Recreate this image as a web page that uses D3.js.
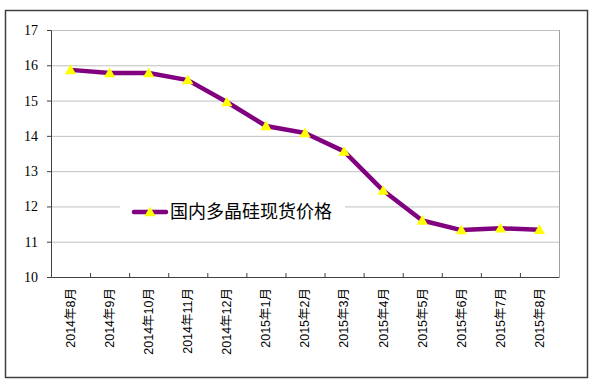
<!DOCTYPE html>
<html>
<head>
<meta charset="utf-8">
<script src="https://cdn.jsdelivr.net/npm/d3@7"></script>
<style>
  body { margin: 0; background: #fff; }
  svg { display: block; }
</style>
</head>
<body>
<svg id="chart" width="594" height="385"></svg>
<script>
// data
const months = ["2014年8月", "2014年9月", "2014年10月", "2014年11月", "2014年12月",
  "2015年1月", "2015年2月", "2015年3月", "2015年4月", "2015年5月",
  "2015年6月", "2015年7月", "2015年8月"];
const prices = [15.87, 15.78, 15.78, 15.58, 14.96, 14.28, 14.08, 13.56, 12.45, 11.6, 11.33, 11.38, 11.34];
const yTicks = [10, 11, 12, 13, 14, 15, 16, 17];
const seriesName = "国内多晶硅现货价格";

const svg = d3.select("#chart");
const margin = { left: 51, top: 30, right: 35, bottom: 108 };
const innerWidth = 594 - margin.left - margin.right;
const innerHeight = 385 - margin.top - margin.bottom;

// outer frame
svg.append("rect")
  .attr("x", 5.5).attr("y", 10.5)
  .attr("width", 582).attr("height", 367)
  .attr("fill", "#fff")
  .attr("stroke", "#404040")
  .attr("stroke-width", 1.5);

const g = svg.append("g").attr("transform", `translate(${margin.left},${margin.top})`);

const xScale = d3.scaleBand().domain(months).range([0, innerWidth]);
const yScale = d3.scaleLinear().domain([10, 17]).range([innerHeight, 0]);

// gridlines
g.selectAll(".grid")
  .data(yTicks.slice(1))
  .enter()
  .append("line")
  .attr("x1", 0).attr("x2", innerWidth)
  .attr("y1", d => yScale(d) + 0.5).attr("y2", d => yScale(d) + 0.5)
  .style("stroke", "#c0c0c0");

// right border of plot
g.append("line")
  .attr("x1", innerWidth + 0.5).attr("x2", innerWidth + 0.5)
  .attr("y1", 0).attr("y2", innerHeight)
  .style("stroke", "#a0a0a0");

// y axis
const yAxis = d3.axisLeft(yScale).tickValues(yTicks).tickFormat(d3.format("d")).tickSize(4).tickPadding(9);
const yG = g.append("g").call(yAxis);
yG.select(".domain").attr("stroke", "#404040");
yG.selectAll(".tick line").attr("stroke", "#404040");
yG.selectAll("text")
  .style("font-family", "'Liberation Serif', 'DejaVu Serif', serif")
  .style("font-size", "14px")
  .attr("fill", "#000");

// x axis (line + ticks only, labels drawn separately)
const xAxis = d3.axisBottom(xScale).tickSize(0).tickFormat("");
const xG = g.append("g").attr("transform", `translate(0,${innerHeight})`).call(xAxis);
xG.select(".domain").attr("stroke", "#404040");

// rotated category labels
g.selectAll(".xlabel")
  .data(months)
  .enter()
  .append("text")
  .attr("class", "xlabel")
  .attr("transform", d => `translate(${xScale(d) + xScale.bandwidth() / 2},${innerHeight + 11}) rotate(-90)`)
  .attr("dy", "0.35em")
  .style("text-anchor", "end")
  .style("font-family", "'Liberation Sans', 'Noto Sans CJK SC', sans-serif")
  .style("font-size", "12.5px")
  .attr("fill", "#000")
  .text(d => d);

// tick marks at band boundaries, pointing up
g.selectAll(".xtick")
  .data(months.slice(1))
  .enter()
  .append("line")
  .attr("x1", d => xScale(d) + 0.5).attr("x2", d => xScale(d) + 0.5)
  .attr("y1", innerHeight - 4).attr("y2", innerHeight)
  .style("stroke", "#404040");

// series line
const line = d3.line()
  .x((d, i) => xScale(months[i]) + xScale.bandwidth() / 2)
  .y(d => yScale(d));

g.append("path")
  .datum(prices)
  .attr("d", line)
  .attr("fill", "none")
  .attr("stroke", "#800080")
  .attr("stroke-width", 4.5)
  .attr("stroke-linejoin", "round");

const tri = d3.symbol().type(d3.symbolTriangle).size(55);
g.selectAll(".marker")
  .data(prices)
  .enter()
  .append("path")
  .attr("d", tri)
  .attr("transform", (d, i) => `translate(${xScale(months[i]) + xScale.bandwidth() / 2},${yScale(d) + 1})`)
  .attr("fill", "#ffff00");

// legend
const lg = svg.append("g").attr("transform", "translate(120,198)");
lg.append("rect")
  .attr("x", 0).attr("y", 0)
  .attr("width", 225).attr("height", 28)
  .attr("fill", "#fff");
lg.append("line")
  .attr("x1", 14).attr("x2", 46)
  .attr("y1", 14).attr("y2", 14)
  .attr("stroke", "#800080")
  .attr("stroke-width", 4.5)
  .attr("stroke-linecap", "round");
lg.append("path")
  .attr("d", tri)
  .attr("transform", "translate(30,15)")
  .attr("fill", "#ffff00");
lg.append("text")
  .attr("x", 50).attr("y", 14)
  .attr("dy", "0.35em")
  .style("font-family", "'Noto Sans CJK SC', sans-serif")
  .style("font-size", "18px")
  .attr("fill", "#000")
  .text(seriesName);
</script>
</body>
</html>
